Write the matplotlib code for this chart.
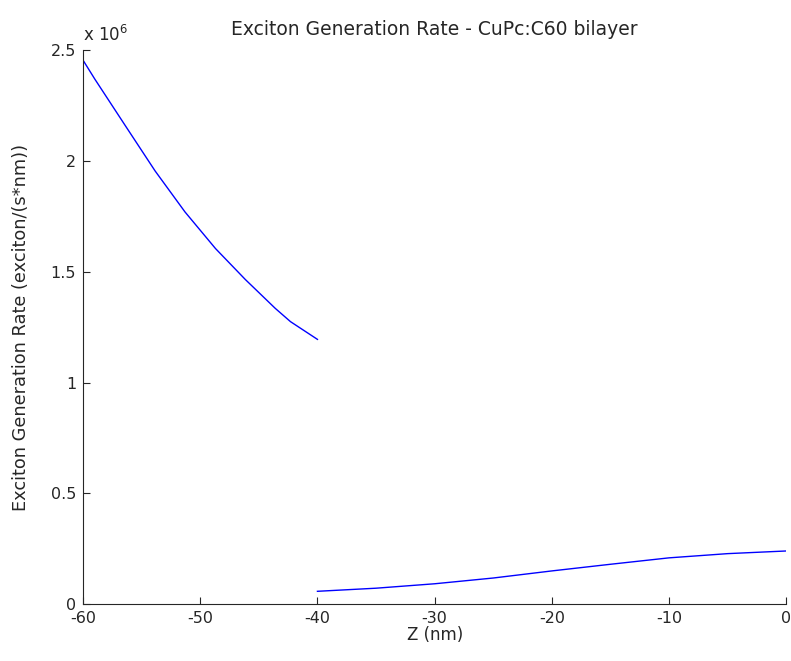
import numpy as np
import matplotlib.pyplot as plt

plt.rcParams['font.family'] = ['DejaVu Sans']

# CuPc layer (-60 .. -40 nm), values in units of 1e6
z_cupc = [-60, -59, -56.4, -53.85, -51.3, -48.7, -46.15, -43.6, -42.3, -40]
g_cupc = [2.455, 2.37, 2.16, 1.955, 1.77, 1.605, 1.465, 1.335, 1.275, 1.195]

# C60 layer (-40 .. 0 nm), values in units of 1e6
z_c60 = [-40, -35, -30, -25, -20, -15, -10, -5, 0]
g_c60 = [0.058, 0.072, 0.092, 0.118, 0.150, 0.180, 0.209, 0.228, 0.240]

xticks = [-60, -50, -40, -30, -20, -10, 0]
yticks = [0, 0.5, 1, 1.5, 2, 2.5]

fig = plt.figure(figsize=(7.91, 6.61), dpi=100)
ax = fig.add_axes([0.105, 0.086, 0.889, 0.838])

ax.plot(z_cupc, g_cupc, color='blue', lw=1)
ax.plot(z_c60, g_c60, color='blue', lw=1)

ax.set_xlim(-60, 0)
ax.set_ylim(0, 2.5)
ax.set_xticks(xticks)
ax.set_xticklabels([str(t) for t in xticks])
ax.set_yticks(yticks)
ax.set_yticklabels(['0', '0.5', '1', '1.5', '2', '2.5'])

for s in ['top', 'right']:
    ax.spines[s].set_visible(False)
for s in ['left', 'bottom']:
    ax.spines[s].set_color('#262626')
ax.tick_params(direction='in', length=5, labelsize=11.5, colors='#262626', pad=5)

ax.set_xlabel('Z (nm)', fontsize=12, color='#262626', labelpad=0)
ax.set_ylabel('Exciton Generation Rate (exciton/(s*nm))', fontsize=12.8, color='#262626', labelpad=15)
ax.set_title('Exciton Generation Rate - CuPc:C60 bilayer', fontsize=13.5, color='#262626', pad=11)
ax.text(0.0, 1.01, r'x 10$^6$', transform=ax.transAxes, fontsize=12, color='#262626',
        ha='left', va='bottom')

fig.savefig('out.png', dpi=100)
